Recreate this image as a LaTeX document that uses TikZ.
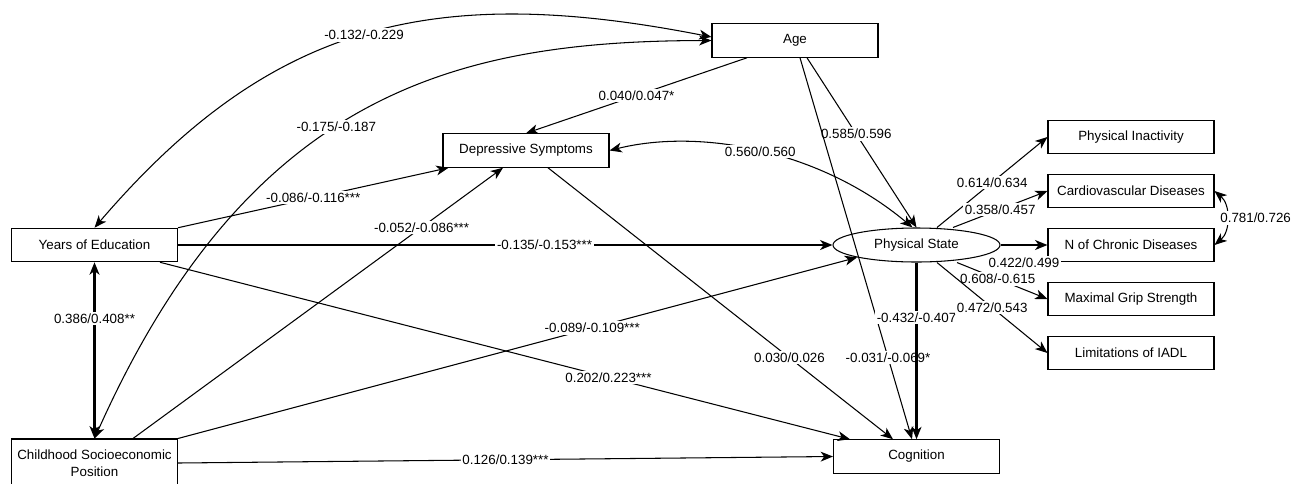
\documentclass[tikz,border=0pt]{standalone}
\usepackage{fontspec}
\setmainfont{Liberation Sans}
\usetikzlibrary{positioning,arrows.meta,shapes.geometric}

\begin{document}
\begin{tikzpicture}[scale=1.0, font=\fontsize{7.6}{9.7}\selectfont,
  var/.style={draw, rectangle, minimum width=3.32cm, minimum height=0.67cm, inner sep=0pt, line width=0.6pt},
  coef/.style={fill=white, inner sep=1pt},
  arr/.style={line width=0.6pt, -{Stealth[length=7pt,width=5.6pt,inset=2pt]}},
  cov/.style={line width=0.6pt, {Stealth[length=7pt,width=5.6pt,inset=2pt]}-{Stealth[length=7pt,width=5.6pt,inset=2pt]}},
  heavy/.style={line width=1.2pt}]
  \useasboundingbox (0,0) rectangle (25.9,-9.66);

  % Observed and latent variables
  \node[var] (age) at (15.9,-0.81) {Age};
  \node[var] (dep) at (10.52,-3.01) {Depressive Symptoms};
  \node[var] (yoe) at (1.89,-4.9) {Years of Education};
  \node[var, minimum height=0.96cm, align=center] (csp) at (1.89,-9.26) {Childhood Socioeconomic\\Position};
  \node[draw, ellipse, minimum width=3.34cm, minimum height=0.68cm, inner sep=0pt, line width=0.6pt] (ps) at (18.33,-4.9) {Physical State};
  \node[var] (cog) at (18.33,-9.13) {Cognition};

  % Indicators of the physical state
  \node[var] (pin) at (22.62,-2.74) {Physical Inactivity};
  \node[var] (cvd) at (22.62,-3.82) {Cardiovascular Diseases};
  \node[var] (ncd) at (22.62,-4.9) {N of Chronic Diseases};
  \node[var] (mgs) at (22.62,-5.98) {Maximal Grip Strength};
  \node[var] (iadl) at (22.62,-7.06) {Limitations of IADL};

  % Covariances
  \draw[cov] (yoe.north) .. controls (5.4,-0.46) and (8.64,0.36) .. ([yshift=0.07cm]age.west) node[coef,pos=0.5]{-0.132/-0.229};
  \draw[cov] (csp.north) .. controls (5.0,-1.8) and (9.2,-0.82) .. (age.west) node[coef,pos=0.45]{-0.175/-0.187};
  \draw[cov] (dep.east) .. controls (14,-2.56) and (16.4,-3.0) .. ([xshift=-0.08cm]ps.north) node[coef,pos=0.5]{0.560/0.560};
  \draw[cov,heavy] (yoe.south) -- (csp.north) node[coef,pos=0.32]{0.386/0.408**};
  \draw[cov] (cvd.east) to[out=-40,in=40] node[coef,midway,xshift=0.58cm]{0.781/0.726} (ncd.east);

  % Paths
  \draw[arr] ([xshift=-0.96cm]age.south) -- (dep.north) node[coef,midway]{0.040/0.047*};
  \draw[arr] ([xshift=0.24cm]age.south) -- (ps.north) node[coef,pos=0.45]{0.585/0.596};
  \draw[arr] ([xshift=0.1cm]age.south) -- ([xshift=-0.09cm]cog.north) node[coef,pos=0.786]{-0.031/-0.069*};
  \draw[arr] ([xshift=0.44cm]dep.south) -- ([xshift=-0.47cm]cog.north) node[coef,pos=0.7]{0.030/0.026};
  \draw[arr] (yoe.north east) -- ([xshift=0.12cm]dep.south west) node[coef,midway]{-0.086/-0.116***};
  \draw[arr] ([xshift=0.77cm]csp.north) -- ([xshift=-0.46cm]dep.south) node[coef,pos=0.78]{-0.052/-0.086***};
  \draw[arr,heavy] (yoe.east) -- (ps.west) node[coef,pos=0.56]{-0.135/-0.153***};
  \draw[arr] ([xshift=1.31cm]yoe.south) -- ([xshift=0.34cm]cog.north west) node[coef,pos=0.65]{0.202/0.223***};
  \draw[arr] (csp.north east) -- (ps.south west) node[coef,pos=0.61]{-0.089/-0.109***};
  \draw[arr] (csp.east) -- (cog.west) node[coef,midway]{0.126/0.139***};
  \draw[arr,heavy] (ps.south) -- (cog.north) node[coef,pos=0.31]{-0.432/-0.407};

  % Loadings
  \draw[arr] ([xshift=0.41cm]ps.north) -- (pin.west) node[coef,midway]{0.614/0.634};
  \draw[arr] ([xshift=0.73cm]ps.north) -- (cvd.west) node[coef,midway]{0.358/0.457};
  \draw[arr,heavy] (ps.east) -- (ncd.west) node[coef,midway,yshift=-0.36cm]{0.422/0.499};
  \draw[arr] ([xshift=0.81cm]ps.south) -- (mgs.west) node[coef,pos=0.45]{0.608/-0.615};
  \draw[arr] ([xshift=0.41cm]ps.south) -- (iadl.west) node[coef,midway]{0.472/0.543};
\end{tikzpicture}
\end{document}
